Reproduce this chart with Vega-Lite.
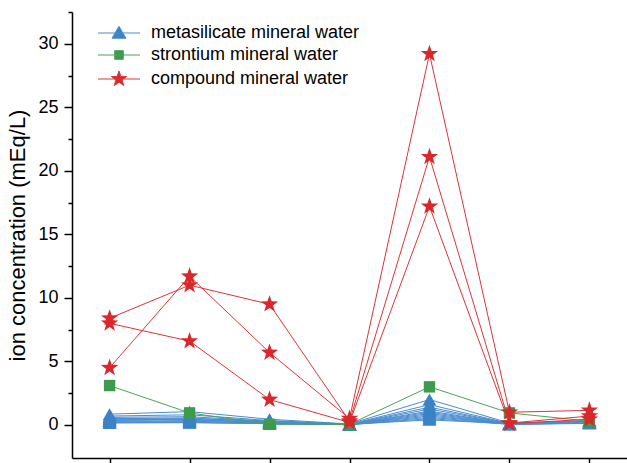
{
  "$schema": "https://vega.github.io/schema/vega-lite/v6.json",
  "width": 555,
  "height": 446,
  "autosize": {"type": "none"},
  "padding": {"left": 72, "top": 12, "right": 0, "bottom": 5},
  "config": {
    "view": {"stroke": null},
    "font": "Arial",
    "axis": {"grid": false, "domainColor": "black", "tickColor": "black", "domainWidth": 1.5, "tickWidth": 1.5, "labelColor": "black", "titleColor": "black"},
    "legend": {"title": null, "orient": "none", "legendX": 38, "legendY": 12, "padding": 0, "labelFontSize": 18, "labelColor": "black", "labelLimit": 400, "symbolSize": 196, "labelOffset": 23, "rowPadding": 4}
  },
  "data": {"values": [
    {"s":"b1","t":"metasilicate mineral water","x":"1","v":0.85},{"s":"b1","t":"metasilicate mineral water","x":"2","v":1.05},{"s":"b1","t":"metasilicate mineral water","x":"3","v":0.45},{"s":"b1","t":"metasilicate mineral water","x":"4","v":0.08},{"s":"b1","t":"metasilicate mineral water","x":"5","v":2.0},{"s":"b1","t":"metasilicate mineral water","x":"6","v":0.15},{"s":"b1","t":"metasilicate mineral water","x":"7","v":0.35},
    {"s":"b2","t":"metasilicate mineral water","x":"1","v":0.7},{"s":"b2","t":"metasilicate mineral water","x":"2","v":0.8},{"s":"b2","t":"metasilicate mineral water","x":"3","v":0.35},{"s":"b2","t":"metasilicate mineral water","x":"4","v":0.06},{"s":"b2","t":"metasilicate mineral water","x":"5","v":1.6},{"s":"b2","t":"metasilicate mineral water","x":"6","v":0.12},{"s":"b2","t":"metasilicate mineral water","x":"7","v":0.3},
    {"s":"b3","t":"metasilicate mineral water","x":"1","v":0.6},{"s":"b3","t":"metasilicate mineral water","x":"2","v":0.65},{"s":"b3","t":"metasilicate mineral water","x":"3","v":0.3},{"s":"b3","t":"metasilicate mineral water","x":"4","v":0.05},{"s":"b3","t":"metasilicate mineral water","x":"5","v":1.4},{"s":"b3","t":"metasilicate mineral water","x":"6","v":0.1},{"s":"b3","t":"metasilicate mineral water","x":"7","v":0.28},
    {"s":"b4","t":"metasilicate mineral water","x":"1","v":0.5},{"s":"b4","t":"metasilicate mineral water","x":"2","v":0.55},{"s":"b4","t":"metasilicate mineral water","x":"3","v":0.25},{"s":"b4","t":"metasilicate mineral water","x":"4","v":0.05},{"s":"b4","t":"metasilicate mineral water","x":"5","v":1.25},{"s":"b4","t":"metasilicate mineral water","x":"6","v":0.1},{"s":"b4","t":"metasilicate mineral water","x":"7","v":0.25},
    {"s":"b5","t":"metasilicate mineral water","x":"1","v":0.45},{"s":"b5","t":"metasilicate mineral water","x":"2","v":0.5},{"s":"b5","t":"metasilicate mineral water","x":"3","v":0.3},{"s":"b5","t":"metasilicate mineral water","x":"4","v":0.04},{"s":"b5","t":"metasilicate mineral water","x":"5","v":1.1},{"s":"b5","t":"metasilicate mineral water","x":"6","v":0.08},{"s":"b5","t":"metasilicate mineral water","x":"7","v":0.22},
    {"s":"b6","t":"metasilicate mineral water","x":"1","v":0.4},{"s":"b6","t":"metasilicate mineral water","x":"2","v":0.45},{"s":"b6","t":"metasilicate mineral water","x":"3","v":0.2},{"s":"b6","t":"metasilicate mineral water","x":"4","v":0.04},{"s":"b6","t":"metasilicate mineral water","x":"5","v":1.0},{"s":"b6","t":"metasilicate mineral water","x":"6","v":0.08},{"s":"b6","t":"metasilicate mineral water","x":"7","v":0.2},
    {"s":"b7","t":"metasilicate mineral water","x":"1","v":0.35},{"s":"b7","t":"metasilicate mineral water","x":"2","v":0.4},{"s":"b7","t":"metasilicate mineral water","x":"3","v":0.2},{"s":"b7","t":"metasilicate mineral water","x":"4","v":0.03},{"s":"b7","t":"metasilicate mineral water","x":"5","v":0.9},{"s":"b7","t":"metasilicate mineral water","x":"6","v":0.07},{"s":"b7","t":"metasilicate mineral water","x":"7","v":0.2},
    {"s":"b8","t":"metasilicate mineral water","x":"1","v":0.3},{"s":"b8","t":"metasilicate mineral water","x":"2","v":0.3},{"s":"b8","t":"metasilicate mineral water","x":"3","v":0.15},{"s":"b8","t":"metasilicate mineral water","x":"4","v":0.03},{"s":"b8","t":"metasilicate mineral water","x":"5","v":0.8},{"s":"b8","t":"metasilicate mineral water","x":"6","v":0.06},{"s":"b8","t":"metasilicate mineral water","x":"7","v":0.18},
    {"s":"b9","t":"metasilicate mineral water","x":"1","v":0.25},{"s":"b9","t":"metasilicate mineral water","x":"2","v":0.25},{"s":"b9","t":"metasilicate mineral water","x":"3","v":0.15},{"s":"b9","t":"metasilicate mineral water","x":"4","v":0.03},{"s":"b9","t":"metasilicate mineral water","x":"5","v":0.7},{"s":"b9","t":"metasilicate mineral water","x":"6","v":0.06},{"s":"b9","t":"metasilicate mineral water","x":"7","v":0.15},
    {"s":"b10","t":"metasilicate mineral water","x":"1","v":0.2},{"s":"b10","t":"metasilicate mineral water","x":"2","v":0.2},{"s":"b10","t":"metasilicate mineral water","x":"3","v":0.1},{"s":"b10","t":"metasilicate mineral water","x":"4","v":0.02},{"s":"b10","t":"metasilicate mineral water","x":"5","v":0.6},{"s":"b10","t":"metasilicate mineral water","x":"6","v":0.05},{"s":"b10","t":"metasilicate mineral water","x":"7","v":0.15},
    {"s":"b11","t":"metasilicate mineral water","x":"1","v":0.15},{"s":"b11","t":"metasilicate mineral water","x":"2","v":0.18},{"s":"b11","t":"metasilicate mineral water","x":"3","v":0.1},{"s":"b11","t":"metasilicate mineral water","x":"4","v":0.02},{"s":"b11","t":"metasilicate mineral water","x":"5","v":0.5},{"s":"b11","t":"metasilicate mineral water","x":"6","v":0.05},{"s":"b11","t":"metasilicate mineral water","x":"7","v":0.12},
    {"s":"b12","t":"metasilicate mineral water","x":"1","v":0.55},{"s":"b12","t":"metasilicate mineral water","x":"2","v":0.35},{"s":"b12","t":"metasilicate mineral water","x":"3","v":0.25},{"s":"b12","t":"metasilicate mineral water","x":"4","v":0.05},{"s":"b12","t":"metasilicate mineral water","x":"5","v":0.4},{"s":"b12","t":"metasilicate mineral water","x":"6","v":0.1},{"s":"b12","t":"metasilicate mineral water","x":"7","v":0.3},
    {"s":"g1","t":"strontium mineral water","x":"1","v":3.1},{"s":"g1","t":"strontium mineral water","x":"2","v":0.95},{"s":"g1","t":"strontium mineral water","x":"3","v":0.05},{"s":"g1","t":"strontium mineral water","x":"4","v":0.05},{"s":"g1","t":"strontium mineral water","x":"5","v":3.0},{"s":"g1","t":"strontium mineral water","x":"6","v":0.95},{"s":"g1","t":"strontium mineral water","x":"7","v":0.3},
    {"s":"r1","t":"compound mineral water","x":"1","v":4.5},{"s":"r1","t":"compound mineral water","x":"2","v":11.7},{"s":"r1","t":"compound mineral water","x":"3","v":5.7},{"s":"r1","t":"compound mineral water","x":"4","v":0.5},{"s":"r1","t":"compound mineral water","x":"5","v":29.2},{"s":"r1","t":"compound mineral water","x":"6","v":1.0},{"s":"r1","t":"compound mineral water","x":"7","v":1.15},
    {"s":"r2","t":"compound mineral water","x":"1","v":8.4},{"s":"r2","t":"compound mineral water","x":"2","v":11.0},{"s":"r2","t":"compound mineral water","x":"3","v":9.5},{"s":"r2","t":"compound mineral water","x":"4","v":0.3},{"s":"r2","t":"compound mineral water","x":"5","v":21.1},{"s":"r2","t":"compound mineral water","x":"6","v":0.15},{"s":"r2","t":"compound mineral water","x":"7","v":0.7},
    {"s":"r3","t":"compound mineral water","x":"1","v":8.0},{"s":"r3","t":"compound mineral water","x":"2","v":6.6},{"s":"r3","t":"compound mineral water","x":"3","v":2.0},{"s":"r3","t":"compound mineral water","x":"4","v":0.2},{"s":"r3","t":"compound mineral water","x":"5","v":17.2},{"s":"r3","t":"compound mineral water","x":"6","v":0.1},{"s":"r3","t":"compound mineral water","x":"7","v":0.45}
  ]},
  "encoding": {
    "x": {"field": "x", "type": "ordinal", "scale": {"type": "point", "padding": 0.47},
      "axis": {"labels": false, "title": null, "tickSize": 5, "domainWidth": 1.5}},
    "y": {"field": "v", "type": "quantitative", "scale": {"domain": [-2.6, 32.5], "nice": false, "zero": false},
      "axis": {"title": "ion concentration (mEq/L)", "titleFontSize": 22, "titleFontWeight": "normal", "titlePadding": 8,
        "labelFontSize": 18, "labelPadding": 6, "tickSize": 8,
        "values": [0, 2.5, 5, 7.5, 10, 12.5, 15, 17.5, 20, 22.5, 25, 27.5, 30, 32.5],
        "labelExpr": "datum.value % 5 === 0 ? datum.label : ''",
        "tickDash": {"condition": {"test": "datum.value % 5 === 0", "value": [8, 0]}, "value": [4, 20]}}}
  },
  "layer": [
    {"mark": {"type": "line", "strokeWidth": 1},
     "encoding": {
       "detail": {"field": "s"},
       "stroke": {"field": "t", "type": "nominal", "scale": {"domain": ["metasilicate mineral water", "strontium mineral water", "compound mineral water"], "range": ["#4a8dd0", "#4aa45a", "#dd3537"]},
         "legend": {
         "encode": {"symbols": {"update": {
           "shape": {"signal": "datum.value === 'metasilicate mineral water' ? 'M-3,0H3M0,-0.95L1,0.75H-1Z' : datum.value === 'strontium mineral water' ? 'M-3,0H3M-0.62,-0.62H0.62V0.62H-0.62Z' : 'M-3,0H3M0,-1.15L0.27,-0.37L1.09,-0.36L0.44,0.14L0.68,0.93L0,0.46L-0.68,0.93L-0.44,0.14L-1.09,-0.36L-0.27,-0.37Z'"},
           "fill": {"signal": "datum.value === 'metasilicate mineral water' ? '#3b82c6' : datum.value === 'strontium mineral water' ? '#3d9b4c' : '#d9282b'"},
           "strokeWidth": {"value": 1},
           "size": {"value": 196},
           "opacity": {"value": 1}}}}}}}},
    {"mark": {"type": "point", "filled": true, "opacity": 1},
     "encoding": {
       "color": {"field": "t", "type": "nominal", "scale": {"range": ["#d9282b", "#3b82c6", "#3d9b4c"]}, "legend": null},
       "shape": {"field": "t", "type": "nominal", "scale": {"range": ["M0,-1L0.235,-0.324L0.951,-0.309L0.38,0.124L0.588,0.809L0,0.4L-0.588,0.809L-0.38,0.124L-0.951,-0.309L-0.235,-0.324Z", "triangle-up", "square"]}, "legend": null},
       "size": {"field": "t", "type": "nominal", "scale": {"type": "ordinal", "range": [330, 190, 130]}, "legend": null}}}
  ]
}
